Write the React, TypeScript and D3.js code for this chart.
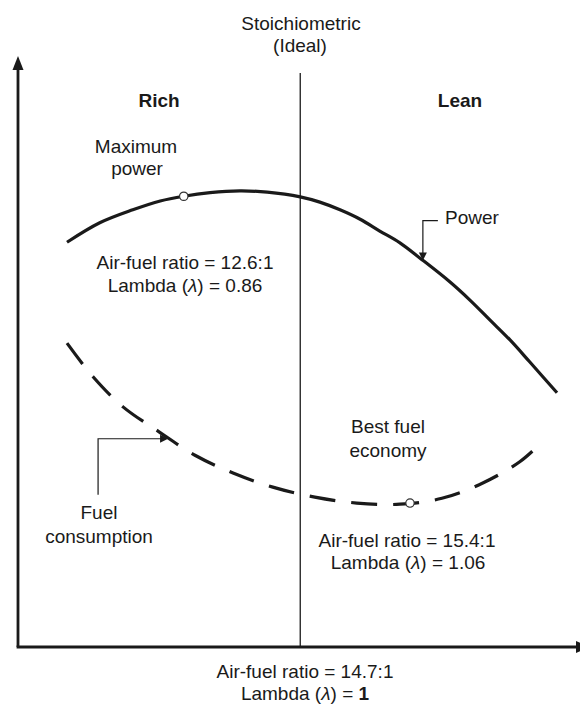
import React from 'react';
import * as d3 from 'd3';

// Schematic units: x 0..100 along the air-fuel axis, y 0..100 up the vertical axis
const powerCurve: [number, number][] = [
  [8.75, 68.6], [14.6, 71.9], [20.5, 74.1], [25.4, 75.6], [29.6, 76.4],
  [34.3, 77.0], [39.6, 77.3], [44.5, 77.1], [50.4, 76.3], [53.9, 75.4],
  [57.5, 74.1], [61.1, 72.5], [64.6, 70.5], [68.2, 68.5], [71.8, 65.9],
  [77.1, 61.9], [80.7, 58.8], [84.3, 55.4], [87.9, 52.0], [91.4, 48.3],
  [96.25, 43.1],
];

const fuelCurve: [number, number][] = [
  [8.75, 51.5], [13.4, 45.8], [18.75, 40.7], [25.0, 36.6], [31.6, 32.5],
  [38.4, 29.5], [45.5, 27.1], [53.0, 25.4], [60.5, 24.4], [68.2, 24.2],
  [75.7, 25.2], [83.0, 27.8], [89.6, 31.4], [93.2, 34.4],
];

const maxPowerPoint: [number, number] = [29.6, 76.4];
const bestEconomyPoint: [number, number] = [70.0, 24.4];
const stoichX = 50.4;
const stoichTop = 97.3;
const powerArrowTip: [number, number] = [72.3, 65.5];
const fuelArrowTip: [number, number] = [26.8, 35.3];

const W = 580;
const H = 704;
const font = "'Liberation Sans', Arial, Helvetica, sans-serif";
const ink = '#1a1a1a';

const x = d3.scaleLinear().domain([0, 100]).range([18, 578]);
const y = d3.scaleLinear().domain([0, 100]).range([647, 57]);

const line = d3
  .line<[number, number]>()
  .x(d => x(d[0]))
  .y(d => y(d[1]))
  .curve(d3.curveCatmullRom.alpha(0.5));

const Lambda = ({ value, bold }: { value: string; bold?: boolean }) => (
  <>
    Lambda (<tspan fontStyle="italic">λ</tspan>) ={' '}
    <tspan fontWeight={bold ? 'bold' : 'normal'}>{value}</tspan>
  </>
);

export default function App() {
  const [px, py] = [x(powerArrowTip[0]), y(powerArrowTip[1])];
  const [fx, fy] = [x(fuelArrowTip[0]), y(fuelArrowTip[1])];

  const txt = {
    fontFamily: font,
    fontSize: 19,
    fill: ink,
    textAnchor: 'middle' as const,
  };

  return (
    <svg
      width={W}
      height={H}
      style={{ position: 'absolute', left: 0, top: 0, background: '#fff' }}
    >
      {/* axes */}
      <line x1={x(0)} y1={y(0)} x2={x(0)} y2={y(98)} stroke={ink} strokeWidth={2.8} />
      <path
        d={`M${x(0)},${y(100) - 1} L${x(0) - 5.5},${y(100) + 13} L${x(0) + 5.5},${y(100) + 13} Z`}
        fill={ink}
      />
      <line x1={x(0) - 1.4} y1={y(0)} x2={x(100)} y2={y(0)} stroke={ink} strokeWidth={2.8} />
      <path
        d={`M${x(100) + 12},${y(0)} L${x(100) - 2},${y(0) - 6} L${x(100) - 2},${y(0) + 6} Z`}
        fill={ink}
      />

      {/* stoichiometric line */}
      <line
        x1={x(stoichX)}
        y1={y(stoichTop)}
        x2={x(stoichX)}
        y2={y(0)}
        stroke={ink}
        strokeWidth={1.3}
      />

      {/* curves */}
      <path d={line(powerCurve) || ''} fill="none" stroke={ink} strokeWidth={3.2} />
      <path
        d={line(fuelCurve) || ''}
        fill="none"
        stroke={ink}
        strokeWidth={3.2}
        strokeDasharray="26 16"
      />

      {/* markers */}
      {[maxPowerPoint, bestEconomyPoint].map((p, i) => (
        <circle
          key={i}
          cx={x(p[0])}
          cy={y(p[1])}
          r={4.2}
          fill="#fff"
          stroke="#333"
          strokeWidth={1.2}
        />
      ))}

      {/* power callout */}
      <path
        d={`M${px + 15},${py - 40} H${px} V${py - 5}`}
        fill="none"
        stroke={ink}
        strokeWidth={1.2}
      />
      <path d={`M${px},${py} L${px - 4},${py - 8} L${px + 4},${py - 8} Z`} fill={ink} />

      {/* fuel callout */}
      <path
        d={`M${fx - 70},${fy + 56} V${fy} H${fx - 5}`}
        fill="none"
        stroke={ink}
        strokeWidth={1.2}
      />
      <path d={`M${fx},${fy} L${fx - 8},${fy - 4} L${fx - 8},${fy + 4} Z`} fill={ink} />

      {/* labels */}
      <text {...txt} x={301} y={30}>Stoichiometric</text>
      <text {...txt} x={300} y={52}>(Ideal)</text>
      <text {...txt} x={159} y={107} fontWeight="bold">Rich</text>
      <text {...txt} x={460} y={107} fontWeight="bold">Lean</text>
      <text {...txt} x={136} y={153}>Maximum</text>
      <text {...txt} x={137} y={175}>power</text>
      <text {...txt} x={185} y={269}>Air-fuel ratio = 12.6:1</text>
      <text {...txt} x={185} y={292}><Lambda value="0.86" /></text>
      <text {...txt} x={445} y={224} textAnchor="start">Power</text>
      <text {...txt} x={388} y={433}>Best fuel</text>
      <text {...txt} x={388} y={457}>economy</text>
      <text {...txt} x={407} y={547}>Air-fuel ratio = 15.4:1</text>
      <text {...txt} x={408} y={569}><Lambda value="1.06" /></text>
      <text {...txt} x={99} y={519}>Fuel</text>
      <text {...txt} x={99} y={543}>consumption</text>
      <text {...txt} x={305} y={678}>Air-fuel ratio = 14.7:1</text>
      <text {...txt} x={305} y={700}><Lambda value="1" bold /></text>
    </svg>
  );
}
